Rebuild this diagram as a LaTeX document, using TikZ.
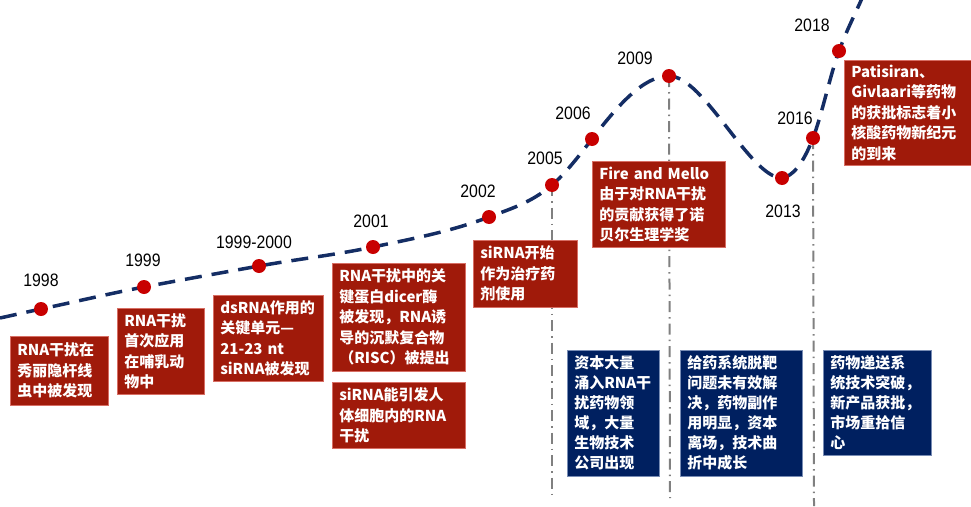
\documentclass[tikz,border=0pt]{standalone}
\usepackage{fontspec}
\newfontfamily\cjk{Noto Sans CJK SC}
\newfontfamily\yearfont{Liberation Sans}[FakeStretch=0.88]
\definecolor{boxred}{RGB}{160,26,10}
\definecolor{boxedge}{RGB}{215,110,100}
\definecolor{boxblue}{RGB}{0,32,96}
\definecolor{boxblueedge}{RGB}{120,140,180}
\definecolor{navyline}{RGB}{20,45,100}
\definecolor{dotred}{RGB}{200,0,0}
\definecolor{vgray}{RGB}{128,128,128}
\begin{document}
\begin{tikzpicture}[x=1pt,y=-1pt,
  dotnode/.style={circle, fill=dotred, minimum size=14pt, inner sep=0pt},
  yr/.style={font=\yearfont\fontsize{18}{18}\selectfont, text=black, inner sep=0pt},
  rbox/.style={fill=boxred, draw=boxedge, line width=0.5pt, anchor=north west,
    inner xsep=7pt, inner ysep=0pt, align=left, text=white,
    font=\cjk\bfseries\fontsize{15}{20.5}\selectfont},
  bbox/.style={rbox, fill=boxblue, draw=boxblueedge, font=\cjk\bfseries\fontsize{15}{20}\selectfont},
  curve/.style={navyline, line width=3.5pt, dash pattern=on 17pt off 10pt},
  vline/.style={vgray, line width=2pt, dash pattern=on 11pt off 5pt on 1.5pt off 5pt}]
\useasboundingbox (0,0) rectangle (971,506);

% curve coordinates
\coordinate (c0) at (0,318);
\coordinate (p98) at (41,309);
\coordinate (p99) at (144,287);
\coordinate (p00) at (259,266);
\coordinate (p01) at (373,247);
\coordinate (p02) at (489,217);
\coordinate (p05) at (552,185);
\coordinate (p06) at (592,139);
\coordinate (p09) at (669,76);
\coordinate (p13) at (782,178);
\coordinate (p16) at (813,138);
\coordinate (p18) at (839,51);
\coordinate (cend) at (863,-4);

% vertical guide lines
\coordinate (v05) at (552,498);
\coordinate (v09) at (670,498);
\coordinate (v16) at (814,506);
\draw[vline] (p05) -- (v05);
\draw[vline] (p09) -- (v09);
\draw[vline] (p16) -- (v16);

% dashed curve
\draw[curve] (c0)
  .. controls (13.7,315) and (27.3,311.9) .. (p98)
  .. controls (75.3,301.8) and (109.7,293.5) .. (p99)
  .. controls (182.3,279.7) and (220.7,272.9) .. (p00)
  .. controls (297,259.2) and (335,255) .. (p01)
  .. controls (411.7,238.9) and (450.3,231.7) .. (p02)
  .. controls (510,209) and (531,202.9) .. (p05)
  .. controls (565.3,173.7) and (578.7,156.3) .. (p06)
  .. controls (617.7,105.6) and (643.3,76) .. (p09)
  .. controls (704,76) and (750,178) .. (p13)
  .. controls (792.3,176.5) and (802.7,164.8) .. (p16)
  .. controls (821.7,115.4) and (830.3,74.5) .. (p18)
  .. controls (847,29.4) and (855,14.4) .. (cend);

% dots
\foreach \p in {98,99,00,01,02,05,06,09,13,16,18}
  \node[dotnode] (d\p) at (p\p) {};

% years
\node[yr] (y98) at (41,280) {1998};
\node[yr] (y99) at (143,260) {1999};
\node[yr] (y00) at (254,242) {1999-2000};
\node[yr] (y01) at (371,221) {2001};
\node[yr] (y02) at (478,191) {2002};
\node[yr] (y05) at (545,158) {2005};
\node[yr] (y06) at (573,113) {2006};
\node[yr] (y09) at (635,58) {2009};
\node[yr] (y13) at (783,211) {2013};
\node[yr] (y16) at (795,118) {2016};
\node[yr] (y18) at (812,25) {2018};

% red boxes
\node[rbox, text width=84pt, minimum height=69pt] (b1) at (10,336) {RNA干扰在\\秀丽隐杆线\\虫中被发现};
\node[rbox, text width=73pt, minimum height=86pt] (b2) at (117,308) {RNA干扰\\首次应用\\在哺乳动\\物中};
\node[rbox, text width=96pt, minimum height=86pt] (b3) at (213,295) {dsRNA作用的\\关键单元—\\21-23 nt\\siRNA被发现};
\node[rbox, text width=119pt, minimum height=108pt] (b4) at (332,263) {RNA干扰中的关\\键蛋白dicer酶\\被发现，RNA诱\\导的沉默复合物\\（RISC）被提出};
\node[rbox, text width=119pt, minimum height=66pt] (b5) at (332,382) {siRNA能引发人\\体细胞内的RNA\\干扰};
\node[rbox, text width=90pt, minimum height=67pt] (b6) at (473,240) {siRNA开始\\作为治疗药\\剂使用};
\node[rbox, text width=119pt, minimum height=86pt] (b7) at (592,161) {Fire and Mello\\由于对RNA干扰\\的贡献获得了诺\\贝尔生理学奖};
\node[rbox, text width=113pt, minimum height=105pt] (b8) at (844,60) {Patisiran、\\Givlaari等药物\\的获批标志着小\\核酸药物新纪元\\的到来};

% blue boxes
\node[bbox, text width=78pt, minimum height=126pt] (n1) at (567,350) {资本大量\\涌入RNA干\\扰药物领\\域，大量\\生物技术\\公司出现};
\node[bbox, text width=108pt, minimum height=126pt] (n2) at (680,350) {给药系统脱靶\\问题未有效解\\决，药物副作\\用明显，资本\\离场，技术曲\\折中成长};
\node[bbox, text width=94pt, minimum height=105pt] (n3) at (823,350) {药物递送系\\统技术突破，\\新产品获批，\\市场重拾信\\心};
\end{tikzpicture}
\end{document}
